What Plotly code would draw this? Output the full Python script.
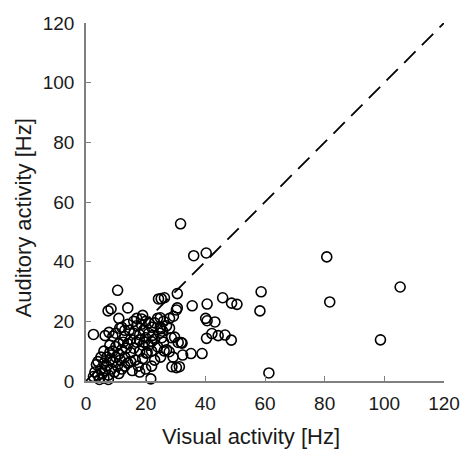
import plotly.graph_objects as go

visual = [
    31.7, 36.1, 40.3, 80.7, 105.3, 10.6, 30.6, 24.3, 25.2, 26.3,
    7.4, 8.4, 14.0, 30.6, 30.3, 35.6, 40.6, 45.8, 48.8, 50.6,
    58.7, 58.3, 81.7, 11.0, 24.9, 29.3, 18.6, 40.1, 40.6, 43.2,
    2.5, 6.4, 7.7, 11.3, 40.4, 42.2, 44.3, 46.6, 48.7, 38.9,
    35.2, 28.8, 30.3, 21.7, 61.3, 98.7, 32.4, 31.3, 32.2, 30.9,
    31.9, 29.7, 28.0, 24.9, 25.7, 24.7, 25.4, 28.6, 26.2, 27.9,
    29.2, 20.2, 22.0, 19.6, 17.9, 22.4,
    2.5, 3.0, 3.5, 4.0, 4.5, 5.0, 5.5, 6.0, 6.0, 6.5,
    7.0, 7.0, 7.5, 8.0, 8.0, 8.5, 9.0, 9.0, 9.5, 10.0,
    10.0, 10.5, 11.0, 11.0, 11.5, 12.0, 12.0, 12.5, 13.0, 13.0,
    13.5, 14.0, 14.0, 14.5, 15.0, 15.0, 15.5, 16.0, 16.0, 16.5,
    17.0, 17.0, 17.5, 18.0, 18.0, 18.5, 19.0, 19.0, 19.5, 20.0,
    20.0, 20.5, 21.0, 21.0, 22.0, 22.0, 23.0, 23.0, 24.0, 24.0,
    25.0, 26.0, 26.0, 27.0, 27.0, 28.0, 16.0, 14.0, 12.0, 10.0,
    6.0, 5.0, 8.0, 20.0, 18.0, 25.0, 23.0, 13.0, 11.0, 7.5,
    17.0, 19.0, 21.0, 9.0, 22.0, 15.0, 13.0, 4.0,
]
auditory = [
    52.7, 42.0, 42.9, 41.6, 31.5, 30.4, 29.3, 27.5, 27.6, 27.9,
    23.5, 24.2, 24.5, 24.5, 23.8, 25.2, 25.8, 27.9, 26.1, 25.7,
    29.9, 23.5, 26.5, 21.0, 21.2, 21.7, 20.8, 21.0, 20.2, 19.8,
    15.6, 15.2, 16.3, 17.7, 14.3, 15.9, 15.2, 15.4, 13.7, 9.2,
    9.2, 4.8, 4.5, 0.7, 2.7, 13.8, 8.7, 4.8, 12.7, 12.9,
    12.9, 14.7, 17.7, 18.1, 16.7, 16.0, 14.5, 14.5, 10.1, 9.8,
    8.0, 9.3, 13.2, 13.1, 13.8, 15.3,
    1.5, 3.0, 5.5, 2.0, 0.5, 4.0, 2.5, 6.0, 1.0, 3.5,
    8.0, 5.0, 2.0, 7.0, 9.5, 4.0, 10.0, 6.5, 3.0, 8.0,
    11.5, 5.0, 9.0, 12.5, 7.0, 10.5, 4.0, 13.0, 8.0, 15.0,
    11.0, 6.0, 12.5, 17.0, 9.5, 14.0, 3.5, 11.0, 16.0, 7.0,
    13.0, 18.5, 5.0, 10.0, 15.5, 19.0, 12.0, 7.5, 17.0, 14.5,
    20.0, 9.5, 16.0, 12.0, 18.0, 5.0, 14.0, 19.5, 11.5, 21.0,
    17.5, 13.0, 20.0, 10.5, 18.5, 21.0, 20.0, 19.0, 18.0, 16.0,
    10.0, 8.0, 12.0, 4.0, 3.0, 8.0, 7.0, 5.0, 2.5, 0.5,
    21.0, 22.0, 19.5, 15.0, 10.0, 6.5, 17.0, 6.5,
]

unity = [0, 120]
tick_vals = [0, 20, 40, 60, 80, 100, 120]
x_title = "Visual activity [Hz]"
y_title = "Auditory activity [Hz]"

FONT = "Liberation Sans, Arial, sans-serif"

fig = go.Figure()
fig.add_trace(go.Scatter(
    x=unity, y=unity, mode="lines",
    line=dict(color="black", width=1.8, dash="16px,9px"),
    hoverinfo="skip", showlegend=False,
))
fig.add_trace(go.Scatter(
    x=visual, y=auditory, mode="markers",
    marker=dict(symbol="circle-open", size=10, color="black",
                line=dict(width=1.6, color="black")),
    cliponaxis=False, showlegend=False,
))

axis_common = dict(
    range=[0, 120], tickvals=tick_vals, ticks="inside", ticklen=5,
    tickcolor="#808080", tickwidth=1.2,
    showline=True, linecolor="#808080", linewidth=1.5,
    showgrid=False, zeroline=False, automargin=False,
    ticklabeloverflow="allow",
    tickfont=dict(family=FONT, size=19, color="#1a1a1a"),
    fixedrange=True,
)

fig.update_layout(
    width=461, height=450,
    margin=dict(l=86, r=17, t=23, b=69),
    paper_bgcolor="white", plot_bgcolor="white",
    xaxis=dict(**axis_common, ticklabelstandoff=4),
    yaxis=dict(**axis_common, ticklabelstandoff=6),
    annotations=[
        dict(text=x_title, xref="paper", yref="paper", x=0.461, y=-0.154,
             xanchor="center", yanchor="middle", showarrow=False,
             font=dict(family=FONT, size=22, color="#1a1a1a")),
        dict(text=y_title, xref="paper", yref="paper", x=-0.175, y=0.455,
             xanchor="center", yanchor="middle", showarrow=False, textangle=-90,
             font=dict(family=FONT, size=22, color="#1a1a1a")),
    ],
)

# Remove the default page margin so the 461x450 figure fills the window exactly.
fig.write_html(
    "out.html",
    config={"displayModeBar": False},
    post_script="document.body.style.margin='0';document.body.style.overflow='hidden';",
)
